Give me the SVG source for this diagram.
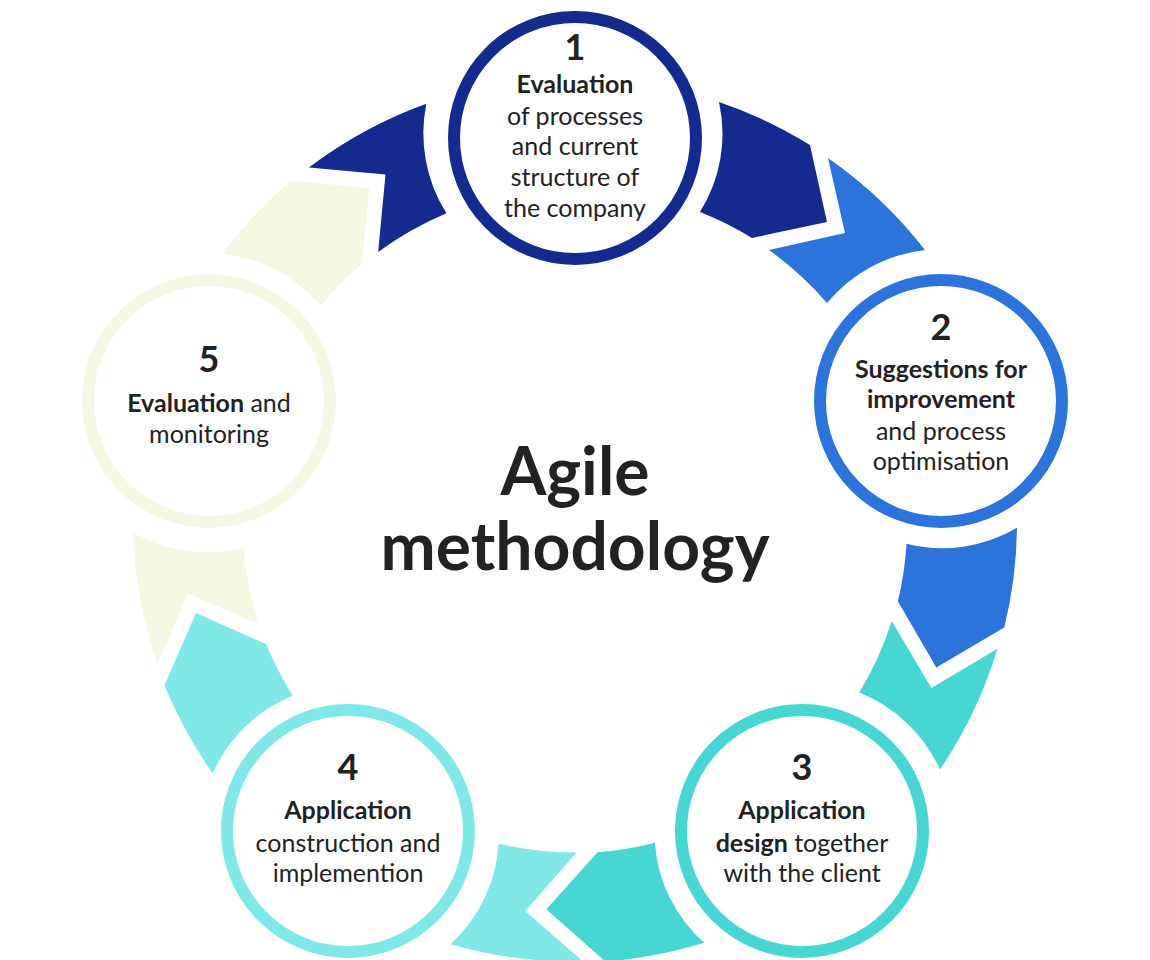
<svg xmlns="http://www.w3.org/2000/svg" width="1150" height="960" viewBox="0 0 1150 960">
<style>
text{font-family:Lato,"Open Sans",sans-serif;fill:#222;text-anchor:middle}
.n{font-size:36px;font-weight:bold}
.b{font-size:25px;font-weight:bold}
.r{font-size:25px}
.c{fill:#fff;stroke-width:12}
.t{font-size:66px;font-weight:bold}
</style>
<defs>
<path id="pa" d="M719,102 A442,442 0 0 1 810,145 L827,222 L752,238 A332,332 0 0 0 700,212 A147,147 0 0 0 719,102 Z"/>
<path id="pb" d="M828,158 A442,442 0 0 1 925,250 A149,149 0 0 0 827,303 A332,332 0 0 0 769,250 L845,233 Z"/>
</defs>
<rect width="1150" height="960" fill="#fff"/>
<g id="connectors">
<use href="#pa" fill="#142a8f"/><use href="#pb" fill="#2c73db"/>
<g transform="rotate(72 575 520)"><use href="#pa" fill="#2c73db"/><use href="#pb" fill="#48d6d3"/></g>
<g transform="rotate(144 575 520)"><use href="#pa" fill="#48d6d3"/><use href="#pb" fill="#80e8e6"/></g>
<g transform="rotate(216 575 520)"><use href="#pa" fill="#80e8e6"/><use href="#pb" fill="#f7f8e4"/></g>
<g transform="rotate(288 575 520)"><use href="#pa" fill="#f7f8e4"/><use href="#pb" fill="#142a8f"/></g>
</g>
<g id="node1"><circle class="c" cx="575" cy="138" r="121" stroke="#142a8f"/>
<text class="n" x="575" y="60">1</text><text class="b" x="575" y="93">Evaluation</text>
<text class="r" x="575" y="125">of processes</text><text class="r" x="575" y="155">and current</text><text class="r" x="575" y="186">structure of</text><text class="r" x="575" y="217">the company</text></g>
<g id="node2"><circle class="c" cx="941" cy="401" r="121" stroke="#2c73db"/>
<text class="n" x="941" y="340">2</text><text class="b" x="941" y="378">Suggestions for</text><text class="b" x="941" y="408">improvement</text>
<text class="r" x="941" y="440">and process</text><text class="r" x="941" y="470">optimisation</text></g>
<g id="node3"><circle class="c" cx="802" cy="831" r="121" stroke="#48d6d3"/>
<text class="n" x="802" y="780">3</text><text class="b" x="802" y="819">Application</text>
<text class="r" x="802" y="852"><tspan font-weight="bold">design</tspan> together</text><text class="r" x="802" y="882">with the client</text></g>
<g id="node4"><circle class="c" cx="348" cy="831" r="121" stroke="#80e8e6"/>
<text class="n" x="348" y="780">4</text><text class="b" x="348" y="819">Application</text>
<text class="r" x="348" y="852">construction and</text><text class="r" x="348" y="882">implemention</text></g>
<g id="node5"><circle class="c" cx="209" cy="401" r="121" stroke="#f7f8e4"/>
<text class="n" x="209" y="372">5</text><text class="r" x="209" y="412"><tspan font-weight="bold">Evaluation</tspan> and</text><text class="r" x="209" y="443">monitoring</text></g>
<g id="center"><text class="t" x="575" y="495">Agile</text><text class="t" x="575" y="570">methodology</text></g>
</svg>
